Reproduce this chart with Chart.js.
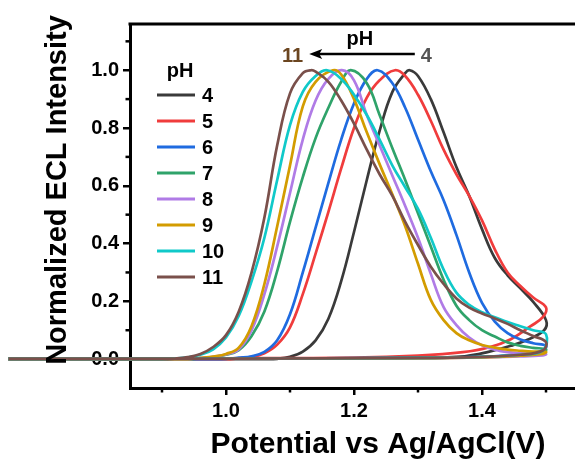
<!DOCTYPE html>
<html><head><meta charset="utf-8">
<script src="https://cdn.jsdelivr.net/npm/chart.js@4.4.1/dist/chart.umd.min.js"></script>
<style>
html,body{margin:0;padding:0;background:#fff;overflow:hidden;width:575px;height:466px;}
#wrap{position:absolute;left:0;top:0;width:620px;height:466px;}
canvas{display:block;}
</style></head><body>
<div id="wrap"><canvas id="c" width="620" height="466"></canvas></div>
<script>
// ---------- data ----------
const seriesLabels = ['4', '5', '6', '7', '8', '9', '10', '11'];
const seriesColors = ['#3a3a3a', '#f03c3c', '#1f6be0', '#2fa36a', '#b07be6', '#d39c00', '#10c9c9', '#7a504b'];
const legendTitle = 'pH';
const xTitle = 'Potential vs Ag/AgCl(V)';
const yTitle = 'Normalized ECL Intensity';
const arrowLabelStart = '11';
const arrowLabelEnd = '4';
const arrowLabelMid = 'pH';

const ph4X = [0.66, 1.06, 1.08, 1.10, 1.12, 1.14, 1.16, 1.18, 1.20, 1.22, 1.24, 1.26, 1.28, 1.287, 1.30, 1.32, 1.34, 1.36, 1.38, 1.40, 1.42, 1.44, 1.46, 1.48, 1.50, 1.497, 1.47, 1.445, 1.41, 1.373, 1.3, 1.1, 0.66];
const ph4Y = [0, 0, 0.001, 0.008, 0.026, 0.065, 0.14, 0.27, 0.44, 0.62, 0.79, 0.925, 0.99, 1.0, 0.98, 0.90, 0.785, 0.665, 0.565, 0.45, 0.35, 0.29, 0.245, 0.198, 0.135, 0.10, 0.066, 0.046, 0.025, 0.01, 0.004, 0.002, 0.002];

const ph5X = [0.66, 1.0, 1.02, 1.04, 1.06, 1.08, 1.10, 1.12, 1.14, 1.16, 1.18, 1.20, 1.22, 1.24, 1.264, 1.28, 1.30, 1.32, 1.34, 1.36, 1.38, 1.40, 1.42, 1.44, 1.46, 1.48, 1.50, 1.495, 1.476, 1.445, 1.41, 1.37, 1.3, 1.2, 1.0, 0.66];
const ph5Y = [0, 0, 0.003, 0.008, 0.02, 0.05, 0.11, 0.225, 0.365, 0.51, 0.66, 0.80, 0.905, 0.965, 1.0, 0.98, 0.915, 0.825, 0.725, 0.64, 0.565, 0.48, 0.38, 0.30, 0.253, 0.213, 0.179, 0.145, 0.114, 0.069, 0.04, 0.024, 0.012, 0.005, 0.003, 0.002];

const ph6X = [0.66, 0.98, 1.00, 1.02, 1.04, 1.06, 1.08, 1.10, 1.12, 1.14, 1.16, 1.18, 1.20, 1.22, 1.237, 1.26, 1.28, 1.30, 1.32, 1.34, 1.36, 1.38, 1.40, 1.42, 1.44, 1.46, 1.48, 1.50, 1.495, 1.47, 1.44, 1.4, 1.3, 1.0, 0.66];
const ph6Y = [0, 0, 0.001, 0.005, 0.01, 0.025, 0.065, 0.155, 0.30, 0.455, 0.61, 0.76, 0.885, 0.97, 1.0, 0.955, 0.87, 0.76, 0.65, 0.55, 0.43, 0.30, 0.195, 0.13, 0.09, 0.068, 0.055, 0.046, 0.03, 0.02, 0.013, 0.008, 0.004, 0.002, 0.002];

const ph7X = [0.66, 0.94, 0.96, 0.98, 1.00, 1.02, 1.04, 1.06, 1.08, 1.10, 1.12, 1.14, 1.16, 1.18, 1.195, 1.22, 1.24, 1.26, 1.28, 1.30, 1.32, 1.34, 1.36, 1.38, 1.40, 1.42, 1.44, 1.46, 1.48, 1.50, 1.495, 1.46, 1.42, 1.35, 1.2, 1.0, 0.66];
const ph7Y = [0, 0, 0.003, 0.007, 0.015, 0.031, 0.08, 0.165, 0.305, 0.475, 0.63, 0.765, 0.87, 0.96, 1.0, 0.955, 0.845, 0.73, 0.62, 0.505, 0.39, 0.275, 0.185, 0.135, 0.1, 0.078, 0.058, 0.046, 0.039, 0.034, 0.022, 0.014, 0.009, 0.005, 0.003, 0.002, 0.002];

const ph8X = [0.66, 0.94, 0.96, 0.98, 1.00, 1.02, 1.04, 1.06, 1.08, 1.10, 1.12, 1.14, 1.16, 1.181, 1.20, 1.22, 1.24, 1.26, 1.28, 1.30, 1.32, 1.34, 1.36, 1.38, 1.40, 1.42, 1.44, 1.46, 1.48, 1.50, 1.495, 1.46, 1.4, 1.3, 1.0, 0.66];
const ph8Y = [0, 0, 0.004, 0.008, 0.016, 0.034, 0.1, 0.225, 0.39, 0.575, 0.76, 0.895, 0.97, 1.0, 0.965, 0.845, 0.74, 0.635, 0.53, 0.42, 0.295, 0.18, 0.118, 0.075, 0.048, 0.033, 0.024, 0.02, 0.018, 0.017, 0.013, 0.009, 0.006, 0.003, 0.002, 0.002];

const ph9X = [0.66, 0.94, 0.96, 0.98, 1.00, 1.02, 1.04, 1.06, 1.08, 1.10, 1.12, 1.14, 1.167, 1.18, 1.20, 1.22, 1.24, 1.26, 1.28, 1.30, 1.32, 1.34, 1.36, 1.38, 1.40, 1.42, 1.44, 1.46, 1.48, 1.50, 1.495, 1.46, 1.4, 1.3, 1.0, 0.66];
const ph9Y = [0, 0, 0.004, 0.009, 0.018, 0.04, 0.115, 0.26, 0.46, 0.67, 0.875, 0.96, 1.0, 0.985, 0.90, 0.785, 0.675, 0.57, 0.46, 0.33, 0.205, 0.135, 0.09, 0.065, 0.049, 0.04, 0.033, 0.029, 0.026, 0.025, 0.018, 0.012, 0.006, 0.003, 0.002, 0.002];

const ph10X = [0.66, 0.90, 0.92, 0.94, 0.96, 0.98, 1.00, 1.02, 1.04, 1.06, 1.08, 1.10, 1.12, 1.14, 1.158, 1.18, 1.20, 1.22, 1.24, 1.26, 1.28, 1.30, 1.32, 1.34, 1.36, 1.38, 1.40, 1.42, 1.44, 1.46, 1.48, 1.50, 1.495, 1.46, 1.4, 1.3, 1.0, 0.66];
const ph10Y = [0, 0, 0.002, 0.006, 0.015, 0.034, 0.075, 0.15, 0.27, 0.42, 0.62, 0.81, 0.925, 0.98, 1.0, 0.97, 0.915, 0.845, 0.76, 0.67, 0.595, 0.52, 0.42, 0.31, 0.23, 0.188, 0.162, 0.145, 0.128, 0.114, 0.10, 0.086, 0.03, 0.015, 0.008, 0.004, 0.002, 0.002];

const ph11X = [0.66, 0.90, 0.92, 0.94, 0.96, 0.98, 1.00, 1.02, 1.04, 1.06, 1.08, 1.10, 1.12, 1.133, 1.14, 1.16, 1.18, 1.20, 1.22, 1.24, 1.26, 1.28, 1.30, 1.32, 1.34, 1.36, 1.38, 1.40, 1.42, 1.44, 1.46, 1.48, 1.50, 1.495, 1.46, 1.4, 1.3, 1.0, 0.66];
const ph11Y = [0, 0, 0.002, 0.007, 0.018, 0.042, 0.083, 0.165, 0.30, 0.49, 0.74, 0.92, 0.99, 1.0, 0.995, 0.96, 0.895, 0.815, 0.725, 0.64, 0.565, 0.475, 0.395, 0.32, 0.26, 0.21, 0.178, 0.158, 0.141, 0.122, 0.10, 0.08, 0.059, 0.03, 0.015, 0.008, 0.004, 0.002, 0.002];

const xMajorTicks = [1.0, 1.2, 1.4];
const xMinorTicks = [0.9, 1.1, 1.3, 1.5];
const yMajorTicks = [0.0, 0.2, 0.4, 0.6, 0.8, 1.0];
const yMinorTicks = [0.1, 0.3, 0.5, 0.7, 0.9, 1.1];

// ---------- chart ----------
const seriesX = [ph4X, ph5X, ph6X, ph7X, ph8X, ph9X, ph10X, ph11X];
const seriesY = [ph4Y, ph5Y, ph6Y, ph7Y, ph8Y, ph9Y, ph10Y, ph11Y];
const FONT = '"Liberation Sans", Arial, Helvetica, sans-serif';
Chart.defaults.font.family = FONT;

const datasets = seriesLabels.map((lab, i) => ({
  label: lab,
  data: seriesX[i].map((x, j) => ({ x: x, y: seriesY[i][j] })),
  borderColor: seriesColors[i],
  backgroundColor: seriesColors[i],
  borderWidth: 2.7,
  pointRadius: 0,
  fill: false,
  tension: 0.4,
  clip: false,
  order: seriesLabels.length - i
}));

const extras = {
  id: 'extras',
  afterDraw(chart) {
    const { ctx, chartArea: a, scales: { x, y } } = chart;
    ctx.save();
    ctx.strokeStyle = '#000';
    ctx.lineWidth = 2.5;
    xMinorTicks.forEach(v => {
      const px = x.getPixelForValue(v);
      ctx.beginPath(); ctx.moveTo(px, a.bottom); ctx.lineTo(px, a.bottom + 4.5); ctx.stroke();
    });
    yMinorTicks.forEach(v => {
      const py = y.getPixelForValue(v);
      ctx.beginPath(); ctx.moveTo(a.left, py); ctx.lineTo(a.left - 4.5, py); ctx.stroke();
    });
    // frame top / right
    ctx.lineWidth = 3;
    ctx.beginPath(); ctx.moveTo(a.left - 1.5, a.top); ctx.lineTo(a.right, a.top); ctx.lineTo(a.right, a.bottom); ctx.stroke();

    // axis titles
    ctx.fillStyle = '#000';
    ctx.font = 'bold 30px ' + FONT;
    ctx.textAlign = 'center';
    ctx.textBaseline = 'alphabetic';
    ctx.fillText(xTitle, 378, 453);
    ctx.save();
    ctx.translate(66, 190);
    ctx.rotate(-Math.PI / 2);
    ctx.font = 'bold 29px ' + FONT;
    ctx.fillText(yTitle, 0, 0);
    ctx.restore();

    // legend
    ctx.font = 'bold 20px ' + FONT;
    ctx.textBaseline = 'middle';
    ctx.textAlign = 'center';
    ctx.fillText(legendTitle, 180, 71);
    chart.data.datasets.forEach((ds, i) => {
      const yy = 95 + 26 * i;
      ctx.strokeStyle = ds.borderColor;
      ctx.lineWidth = 3;
      ctx.beginPath(); ctx.moveTo(157, yy); ctx.lineTo(195, yy); ctx.stroke();
      ctx.fillStyle = '#000';
      ctx.textAlign = 'left';
      ctx.fillText(ds.label, 202, yy + 1);
    });

    // arrow annotation
    const ax1 = x.getPixelForValue(1.295), ax2 = x.getPixelForValue(1.13), ay = y.getPixelForValue(1.056);
    ctx.strokeStyle = '#000';
    ctx.fillStyle = '#000';
    ctx.lineWidth = 2.5;
    ctx.beginPath(); ctx.moveTo(ax1, ay); ctx.lineTo(ax2 + 8, ay); ctx.stroke();
    ctx.beginPath(); ctx.moveTo(ax2, ay); ctx.lineTo(ax2 + 13, ay - 5); ctx.lineTo(ax2 + 10, ay); ctx.lineTo(ax2 + 13, ay + 5); ctx.closePath(); ctx.fill();
    ctx.textAlign = 'center';
    ctx.fillText(arrowLabelMid, x.getPixelForValue(1.209), y.getPixelForValue(1.105));
    ctx.fillStyle = '#6b4520';
    ctx.fillText(arrowLabelStart, x.getPixelForValue(1.104), y.getPixelForValue(1.046));
    ctx.fillStyle = '#555555';
    ctx.fillText(arrowLabelEnd, x.getPixelForValue(1.313), y.getPixelForValue(1.046));
    ctx.restore();
  }
};

new Chart(document.getElementById('c'), {
  type: 'line',
  data: { datasets },
  options: {
    responsive: false,
    animation: false,
    devicePixelRatio: 1,
    layout: { padding: { top: 24, right: 10, left: 0, bottom: 0 } },
    plugins: { legend: { display: false }, tooltip: { enabled: false } },
    scales: {
      x: {
        type: 'linear', min: 0.85, max: 1.6,
        afterBuildTicks: s => { s.ticks = xMajorTicks.map(v => ({ value: v })); },
        afterFit: s => { s.height = 78; },
        ticks: { callback: v => v.toFixed(1), color: '#000', font: { size: 20, weight: 'bold' }, padding: 4, maxRotation: 0 },
        grid: { drawOnChartArea: false, drawTicks: true, tickLength: 7, color: '#000', lineWidth: 2.5 },
        border: { display: true, color: '#000', width: 3 }
      },
      y: {
        type: 'linear', min: -0.1, max: 1.16,
        afterBuildTicks: s => { s.ticks = yMajorTicks.map(v => ({ value: v })); },
        afterFit: s => { s.width = 130; },
        ticks: { callback: v => v.toFixed(1), color: '#000', font: { size: 20, weight: 'bold' }, padding: 4 },
        grid: { drawOnChartArea: false, drawTicks: true, tickLength: 7, color: '#000', lineWidth: 2.5 },
        border: { display: true, color: '#000', width: 3 }
      }
    }
  },
  plugins: [extras]
});
</script>
</body></html>
